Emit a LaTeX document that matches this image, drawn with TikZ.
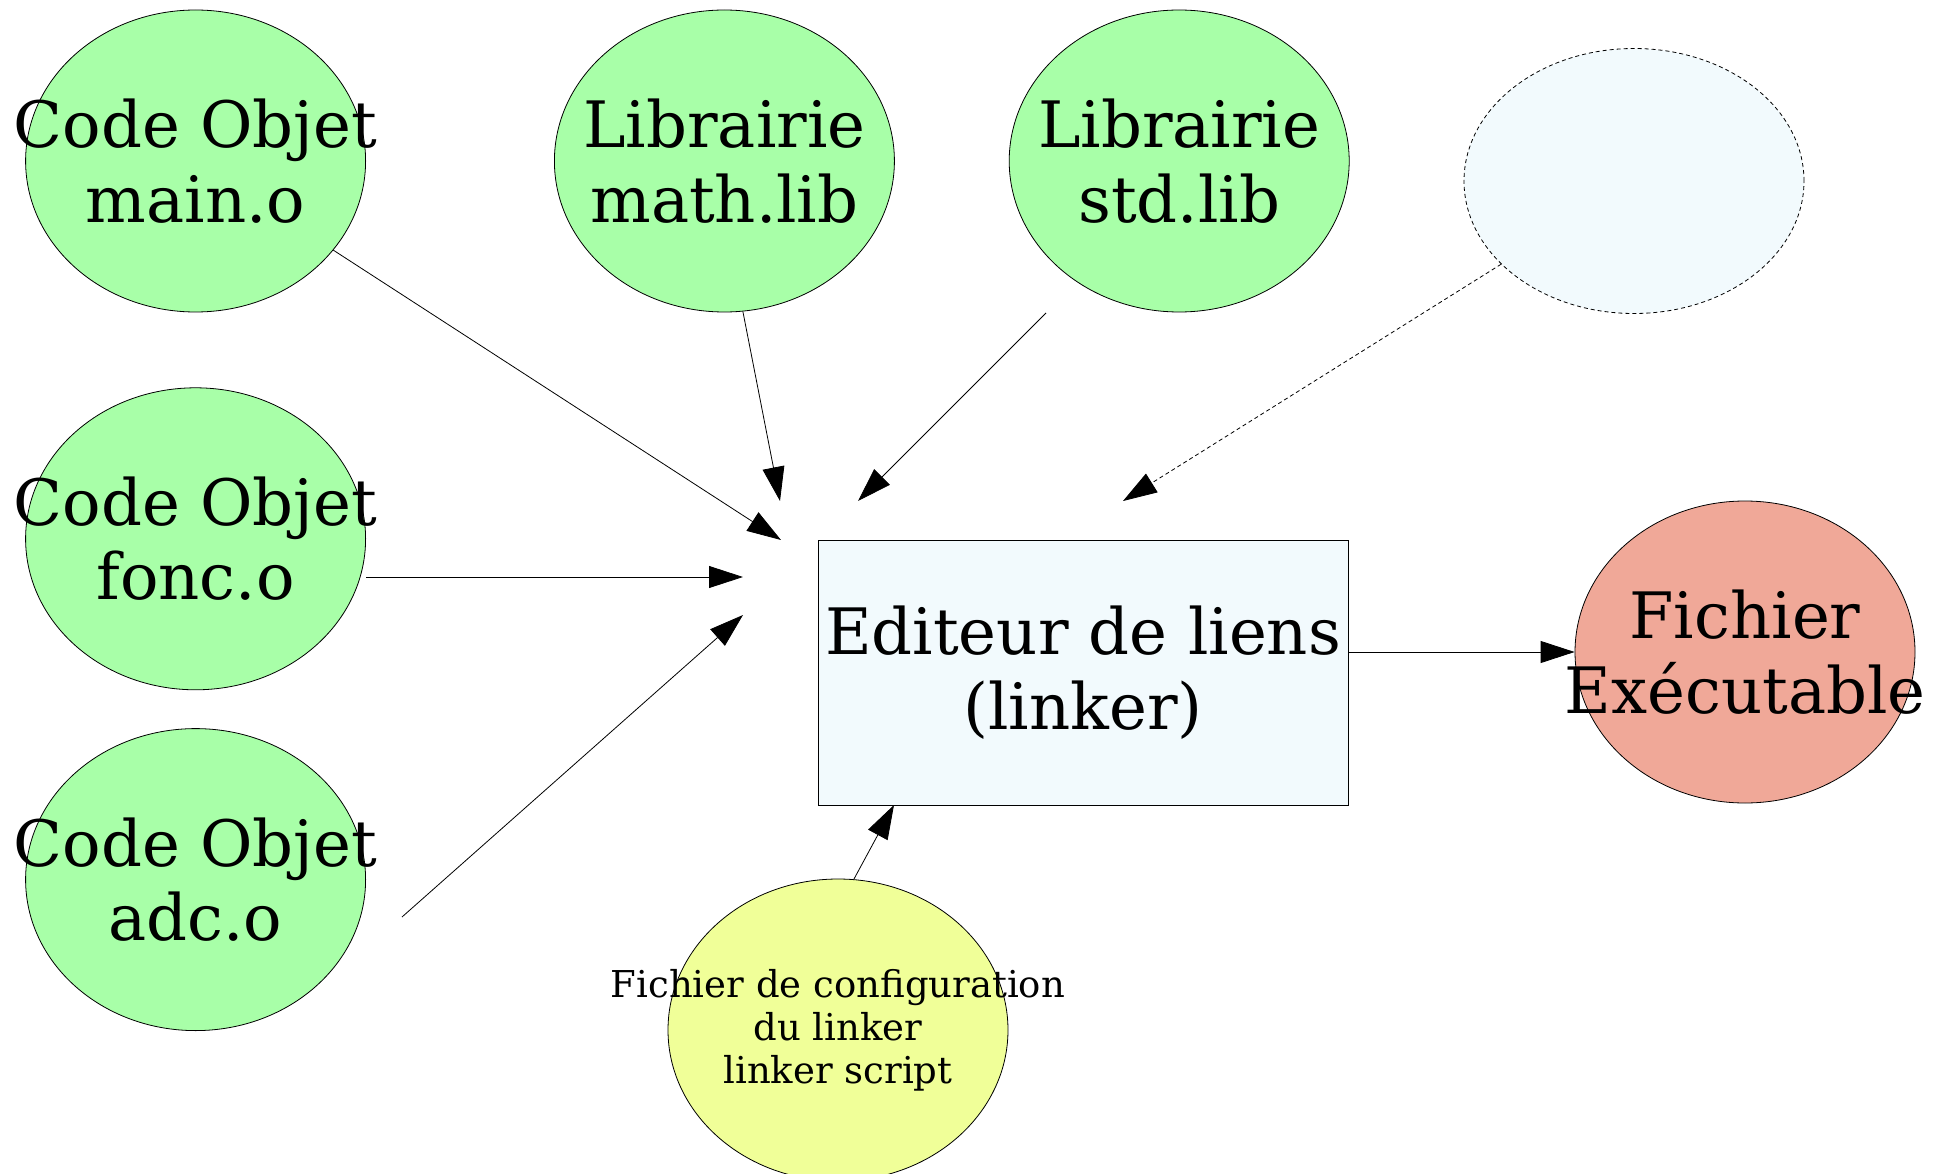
\documentclass[tikz,border=0pt]{standalone}
\usepackage{fontspec}
\setmainfont{DejaVu Serif}
\usepackage{xcolor}
\usepackage{tikz}
\usetikzlibrary{positioning,arrows.meta,shapes.geometric}

\definecolor{objgreen}{RGB}{168,255,168}
\definecolor{paleblue}{RGB}{242,250,253}
\definecolor{execred}{RGB}{240,168,152}
\definecolor{cfgyellow}{RGB}{240,255,152}

\begin{document}
\begin{tikzpicture}[
  x=1pt, y=-1pt,
  big/.style={font=\fontsize{64}{74.5}\selectfont, align=center},
  small/.style={font=\fontsize{37}{43}\selectfont, align=center},
  blob/.style={draw, ellipse, line width=0.8pt, inner sep=0pt,
               minimum width=340pt, minimum height=302pt},
  obj/.style={blob, fill=objgreen},
  arr/.style={-{Triangle[length=34pt, width=22pt]}, line width=0.8pt},
  node distance=38pt]
\useasboundingbox (0,0) rectangle (1941,1174);
% sources on the left
\node[obj, label={[big]center:Code Objet\\main.o}] (main) at (195.6,161) {};
\node[obj, below=75pt of main, label={[big]center:Code Objet\\fonc.o}] (fonc) {};
\node[obj, below=of fonc, label={[big]center:Code Objet\\adc.o}] (adc) {};
% libraries on top
\node[obj, right=188pt of main, label={[big]center:Librairie\\math.lib}] (math) {};
\node[obj, right=114pt of math, label={[big]center:Librairie\\std.lib}] (std) {};
\node[blob, dashed, dash pattern=on 4pt off 3pt, fill=paleblue,
      minimum height=265pt, right=114pt of std, yshift=-20pt] (extra) {};
% linker and output
\node[draw, line width=0.8pt, fill=paleblue, big, minimum width=530pt,
      minimum height=265pt] (link) at (1083,672.5) {Editeur de liens\\(linker)};
\node[blob, fill=execred, label={[big]center:Fichier\\Exécutable}] (exec) at (1745,652) {};
\node[blob, fill=cfgyellow, label={[small]center:Fichier de configuration\\du linker\\linker script}] (cfg) at (838,1030) {};
% free arrow ends
\coordinate (maintip) at (781,540);
\coordinate (mathtip) at (780,501);
\coordinate (stdfrom) at (1046,313);
\coordinate (stdtip) at (858,501);
\coordinate (extratip) at (1123,501);
\coordinate (fonctip) at (743,577);
\coordinate (adcfrom) at (402,917);
\coordinate (adctip) at (743,615);
\coordinate (cfgtip) at (894,805);
\draw[arr] (main) -- (maintip);
\draw[arr] (math.277) -- (mathtip);
\draw[arr] (stdfrom) -- (stdtip);
\draw[arr, dashed, dash pattern=on 4pt off 3pt] (extra) -- (extratip);
\draw[arr] (fonc.east |- fonctip) -- (fonctip);
\draw[arr] (adcfrom) -- (adctip);
\draw[arr] (cfg.84) -- (cfgtip);
\draw[arr] (link.east |- exec.west) -- (exec.west);
\end{tikzpicture}
\end{document}
